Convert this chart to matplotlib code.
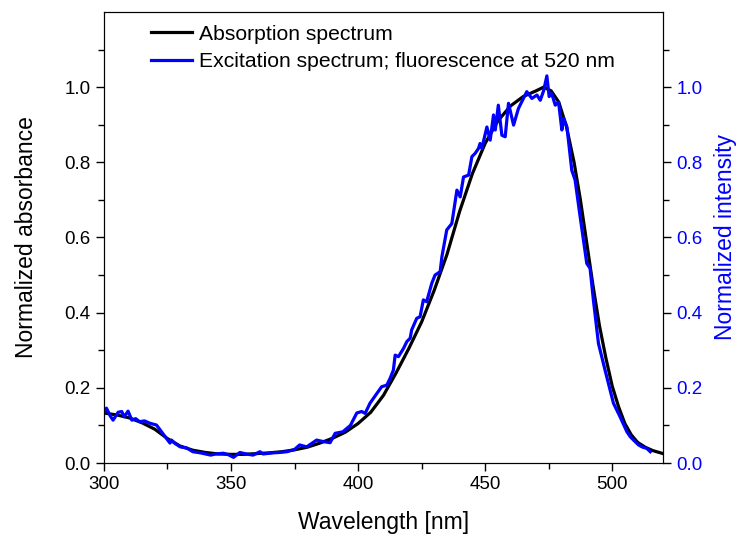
import matplotlib
matplotlib.use("Agg")
import matplotlib.pyplot as plt
from matplotlib.ticker import MultipleLocator, FixedLocator, FormatStrFormatter

plt.rcParams['font.family'] = ['Liberation Sans', 'DejaVu Sans']

# Absorption spectrum (normalized absorbance)
abs_wl = [300, 305, 310, 315, 320, 325, 330, 335, 340, 345, 350, 355, 360, 365,
          370, 375, 380, 385, 390, 395, 400, 405, 410, 415, 420, 425, 430, 435,
          440, 445, 450, 455, 460, 465, 470, 473, 476, 479, 482, 485, 487.5, 490,
          492.5, 495, 497.5, 500, 502.5, 505, 507.5, 510, 513, 516, 520]
abs_val = [0.133, 0.128, 0.12, 0.107, 0.09, 0.065, 0.045, 0.034, 0.028, 0.024,
           0.023, 0.023, 0.025, 0.027, 0.030, 0.035, 0.042, 0.053, 0.066, 0.082,
           0.105, 0.135, 0.18, 0.24, 0.305, 0.375, 0.46, 0.555, 0.67, 0.77, 0.85,
           0.91, 0.95, 0.975, 0.99, 1.0, 0.99, 0.96, 0.895, 0.80, 0.70, 0.585,
           0.47, 0.365, 0.28, 0.205, 0.15, 0.105, 0.075, 0.055, 0.042, 0.033, 0.025]

# Excitation spectrum (normalized intensity), fluorescence at 520 nm
exc_wl = [300, 301, 302.5, 303.6, 305.6, 307, 308, 309.5, 311, 312.5, 314, 316, 318,
          320.7, 323, 326, 326.6, 328, 330, 332.6, 335, 338, 342, 344, 347, 349, 351,
          353.5, 356, 358.7, 361.4, 362.6, 366.5, 369, 372, 375, 377, 379.8, 383.7,
          386.3, 389, 391, 394, 397, 399.5, 401.4, 402.8, 404.7, 407.4, 409.3, 411.3,
          412.6, 413.9, 414.6, 415.9, 417.9, 419.2, 420.5, 421.1, 423.1, 424.4, 425.7,
          427, 429, 430.3, 432.3, 433, 434.9, 436.9, 438.9, 440.2, 441.5, 443.5, 444.8,
          446.1, 447.4, 448, 448.7, 450.7, 452, 453.3, 454, 455.2, 456.6, 457.9, 459.2,
          461.2, 463.1, 466.4, 468.4, 470.4, 471.7, 473, 474.3, 475.2, 476.2, 477.6,
          478.9, 480.2, 480.9, 482.2, 484.1, 485.4, 487.4, 490, 491.3, 492.6, 494.6,
          497.2, 500.5, 503.1, 505.8, 507.1, 508.4, 510.4, 512, 513.6, 515]
exc_val = [0.13, 0.146, 0.125, 0.114, 0.135, 0.137, 0.123, 0.138, 0.114, 0.118, 0.11,
           0.112, 0.106, 0.101, 0.08, 0.053, 0.061, 0.052, 0.043, 0.04, 0.03, 0.027,
           0.021, 0.024, 0.026, 0.022, 0.015, 0.028, 0.024, 0.021, 0.03, 0.024, 0.027,
           0.028, 0.03, 0.036, 0.048, 0.043, 0.061, 0.057, 0.054, 0.079, 0.083, 0.1,
           0.133, 0.137, 0.132, 0.159, 0.185, 0.203, 0.207, 0.225, 0.247, 0.287, 0.283,
           0.305, 0.323, 0.332, 0.354, 0.385, 0.389, 0.434, 0.429, 0.478, 0.50, 0.509,
           0.549, 0.62, 0.637, 0.726, 0.708, 0.761, 0.766, 0.815, 0.824, 0.837, 0.85,
           0.837, 0.894, 0.859, 0.926, 0.886, 0.952, 0.872, 0.868, 0.957, 0.899, 0.943,
           0.988, 0.97, 0.979, 0.965, 0.99, 1.03, 0.975, 0.983, 0.952, 0.96, 0.886,
           0.917, 0.894, 0.779, 0.753, 0.655, 0.531, 0.518, 0.434, 0.318, 0.247, 0.159,
           0.123, 0.083, 0.07, 0.061, 0.048, 0.042, 0.039, 0.03]

y_major = [0.0, 0.2, 0.4, 0.6, 0.8, 1.0]
y_minor = [0.1, 0.3, 0.5, 0.7, 0.9, 1.1]

fig = plt.figure(figsize=(7.37, 5.37), dpi=100)
ax = fig.add_axes([0.141, 0.1378, 0.7586, 0.8399])
ax2 = ax.twinx()

l1, = ax.plot(abs_wl, abs_val, color='black', lw=2.3, label='Absorption spectrum')
l2, = ax2.plot(exc_wl, exc_val, color='#0000ff', lw=2.3,
               label='Excitation spectrum; fluorescence at 520 nm')

for a in (ax, ax2):
    a.set_xlim(300, 520)
    a.set_ylim(0, 1.2)
    a.yaxis.set_major_locator(FixedLocator(y_major))
    a.yaxis.set_minor_locator(FixedLocator(y_minor))
    a.yaxis.set_major_formatter(FormatStrFormatter('%.1f'))

ax.xaxis.set_major_locator(MultipleLocator(50))
ax.xaxis.set_minor_locator(MultipleLocator(25))

ax.tick_params(axis='both', which='major', direction='out', length=6, width=1,
               labelsize=13.5, top=False)
ax.tick_params(axis='both', which='minor', direction='out', length=4, width=1, top=False)
ax2.tick_params(axis='y', which='major', direction='out', length=6, width=1,
                labelsize=13.5, labelcolor='#0000ff')
ax2.tick_params(axis='y', which='minor', direction='out', length=4, width=1)

ax.set_xlabel('Wavelength [nm]', fontsize=16.5, labelpad=13)
ax.set_ylabel('Normalized absorbance', fontsize=16.5, labelpad=19)
ax2.set_ylabel('Normalized intensity', fontsize=16.5, color='#0000ff', labelpad=8)

ax.legend(handles=[l1, l2], loc='upper left', bbox_to_anchor=(0.061, 1.0),
          frameon=False, fontsize=15.2, handlelength=1.95, handletextpad=0.34,
          labelspacing=0.4, borderaxespad=0.2)

fig.savefig('out.png', dpi=100)
